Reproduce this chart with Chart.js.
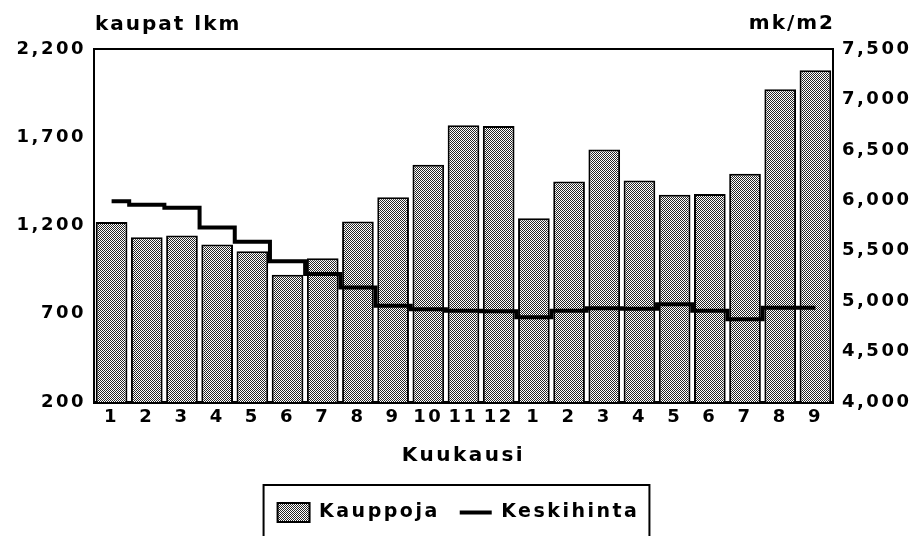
<!DOCTYPE html>
<html>
<head>
<meta charset="utf-8">
<script src="https://cdn.jsdelivr.net/npm/chart.js@4/dist/chart.umd.min.js"></script>
<style>
html,body{margin:0;padding:0;background:#fff;}
canvas{display:block;}
</style>
</head>
<body>
<canvas id="c" width="917" height="536"></canvas>
<script>
const months = ['1','2','3','4','5','6','7','8','9','10','11','12','1','2','3','4','5','6','7','8','9'];
const kauppoja = [1220, 1133, 1143, 1092, 1054, 921, 1014, 1222, 1360, 1544, 1768, 1764, 1241, 1450, 1630, 1455, 1374, 1379, 1493, 1972, 2080];
const keskihinta = [5990, 5955, 5925, 5730, 5590, 5395, 5270, 5135, 4955, 4920, 4905, 4900, 4840, 4905, 4930, 4925, 4970, 4905, 4820, 4935, 4935];
const leftTitle = 'kaupat lkm';
const rightTitle = 'mk/m2';
const xTitle = 'Kuukausi';
const seriesNames = ['Kauppoja', 'Keskihinta'];

const FONT = "'DejaVu Sans', sans-serif";
const SPACING = '2.5px';

// dotted hatch pattern
const pc = document.createElement('canvas');
pc.width = 4; pc.height = 4;
const px = pc.getContext('2d');
px.fillStyle = '#fff'; px.fillRect(0,0,4,4);
px.fillStyle = '#262626';
[[0,0],[2,0],[1,1],[3,1],[0,2],[3,3],[1,3],[2,2]].forEach(([x,y])=>{ if((x+y)%4!==3) px.fillRect(x,y,1,1); });
const hatch = document.getElementById('c').getContext('2d').createPattern(pc, 'repeat');

const spacingPlugin = {
  id: 'spacing',
  beforeUpdate(chart){ chart.ctx.letterSpacing = SPACING; },
  beforeLayout(chart){ chart.ctx.letterSpacing = SPACING; },
  beforeDraw(chart){ chart.ctx.letterSpacing = SPACING; }
};

const decoPlugin = {
  id: 'deco',
  afterDraw(chart){
    const ctx = chart.ctx, a = chart.chartArea;
    ctx.save();
    ctx.letterSpacing = '2px';
    ctx.fillStyle = '#000';
    ctx.font = "bold 20px " + FONT;
    ctx.textBaseline = 'alphabetic';
    ctx.textAlign = 'left';
    ctx.fillText(leftTitle, a.left + 1, 30);
    ctx.textAlign = 'right';
    ctx.fillText(rightTitle, a.right + 2, 29);
    // legend frame
    const lg = chart.legend;
    if (lg && lg.legendHitBoxes && lg.legendHitBoxes.length){
      let l = Infinity, r = -Infinity;
      lg.legendHitBoxes.forEach(h=>{ l=Math.min(l,h.left); r=Math.max(r,h.left+h.width); });
      ctx.strokeStyle = '#000';
      ctx.lineWidth = 2;
      ctx.strokeRect(l - 14, 485, (r - l) + 24, 70);
    }
    ctx.restore();
  }
};

new Chart(document.getElementById('c'), {
  type: 'bar',
  data: {
    labels: months,
    datasets: [
      {
        type: 'bar',
        label: seriesNames[0],
        data: kauppoja,
        yAxisID: 'y',
        backgroundColor: hatch,
        borderColor: '#000',
        borderWidth: 2,
        borderSkipped: false,
        barPercentage: 0.9,
        categoryPercentage: 1.0,
        order: 1
      },
      {
        type: 'line',
        label: seriesNames[1],
        data: keskihinta,
        yAxisID: 'y1',
        borderColor: '#000',
        backgroundColor: '#000',
        borderWidth: 4,
        stepped: 'middle',
        pointRadius: 0,
        fill: false,
        order: 0
      }
    ]
  },
  options: {
    responsive: false,
    devicePixelRatio: 1,
    animation: false,
    layout: { padding: { top: 49, left: 0, right: 0, bottom: 4 } },
    plugins: {
      tooltip: { enabled: false },
      legend: {
        position: 'bottom',
        labels: {
          color: '#000',
          font: { family: FONT, size: 19, weight: 'bold' },
          usePointStyle: true,
          pointStyleWidth: 32,
          boxHeight: 19,
          padding: 20,
          sort: (a, b) => a.datasetIndex - b.datasetIndex,
          generateLabels(chart){
            const items = Chart.defaults.plugins.legend.labels.generateLabels(chart);
            items.forEach(it=>{
              if (it.datasetIndex === 0){ it.pointStyle = 'rect'; it.lineWidth = 2; it.strokeStyle = '#000'; it.fillStyle = hatch; }
              else { it.pointStyle = 'line'; it.lineWidth = 4; it.strokeStyle = '#000'; }
            });
            return items;
          }
        }
      }
    },
    scales: {
      x: {
        grid: { display: false, drawTicks: false },
        border: { display: true, color: '#000', width: 3 },
        ticks: { color: '#000', font: { family: FONT, size: 18, weight: 'bold' }, padding: 5, maxRotation: 0, autoSkip: false },
        title: { display: true, text: xTitle, color: '#000', font: { family: FONT, size: 20, weight: 'bold' }, padding: { top: 0, bottom: 15 } },
        afterFit(s){ s.height = 81; }
      },
      y: {
        position: 'left',
        min: 200, max: 2200,
        ticks: { stepSize: 500, color: '#000', font: { family: FONT, size: 18, weight: 'bold' }, padding: 8 },
        grid: {
          drawTicks: false,
          lineWidth: 2,
          color: c => (c.tick && c.tick.value === 2200) ? '#000' : 'rgba(0,0,0,0)'
        },
        border: { display: true, color: '#000', width: 2 },
        afterFit(s){ s.width = 94; }
      },
      y1: {
        position: 'right',
        min: 4000, max: 7500,
        ticks: { stepSize: 500, color: '#000', font: { family: FONT, size: 18, weight: 'bold' }, padding: 9 },
        grid: { display: false, drawTicks: false },
        border: { display: true, color: '#000', width: 2 },
        afterFit(s){ s.width = 84; }
      }
    }
  },
  plugins: [spacingPlugin, decoPlugin]
});
</script>
</body>
</html>
